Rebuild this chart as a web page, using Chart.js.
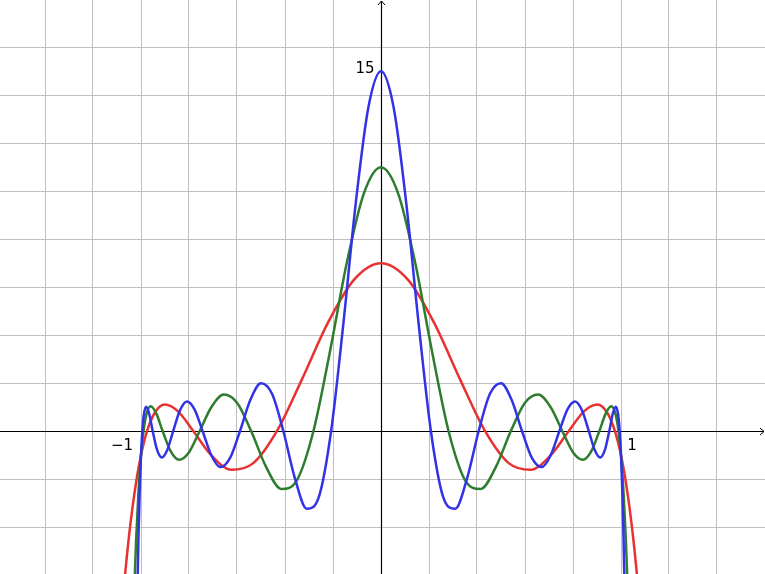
<!DOCTYPE html>
<html>
<head>
<meta charset="utf-8">
<script src="https://cdn.jsdelivr.net/npm/chart.js@4/dist/chart.umd.min.js"></script>
<style>
  html, body { margin: 0; padding: 0; background: #fff; }
  #wrap { width: 765px; height: 574px; }
</style>
</head>
<body>
<div id="wrap"><canvas id="plot" width="765" height="574"></canvas></div>
<script>
// curves (x, y pairs)
const redX = [-1.09, -1.07, -1.05, -1.035, -1.02, -1.01, -1, -0.9937, -0.9749, -0.9439, -0.9010, -0.8467, -0.7818, -0.7071, -0.6235, -0.5320, -0.4339, -0.3303, -0.2225, -0.1120, 0, 0.1120, 0.2225, 0.3303, 0.4339, 0.5320, 0.6235, 0.7071, 0.7818, 0.8467, 0.9010, 0.9439, 0.9749, 0.9937, 1, 1.01, 1.02, 1.035, 1.05, 1.07, 1.09];
const redY = [-8.77, -6.36, -4.37, -3.14, -2.105, -1.515, -1, -0.712, 0, 0.749, 1.110, 0.835, 0, -1, -1.604, -1.329, 0, 2.141, 4.494, 6.316, 7, 6.316, 4.494, 2.141, 0, -1.329, -1.604, -1, 0, 0.835, 1.110, 0.749, 0, -0.712, -1, -1.515, -2.105, -3.14, -4.37, -6.36, -8.77];

const greenX = [-1.03, -1.02, -1.01, -1.005, -1, -0.9975, -0.9898, -0.9771, -0.9595, -0.9370, -0.9096, -0.8777, -0.8413, -0.8005, -0.7558, -0.7071, -0.6549, -0.5993, -0.5406, -0.4793, -0.4154, -0.3495, -0.2817, -0.2126, -0.1423, -0.0713, 0, 0.0713, 0.1423, 0.2126, 0.2817, 0.3495, 0.4154, 0.4793, 0.5406, 0.5993, 0.6549, 0.7071, 0.7558, 0.8005, 0.8413, 0.8777, 0.9096, 0.9370, 0.9595, 0.9771, 0.9898, 0.9975, 1, 1.005, 1.01, 1.02, 1.03];
const greenY = [-7.17, -4.466, -2.447, -1.660, -1, -0.709, 0, 0.724, 1.042, 0.755, 0, -0.806, -1.189, -0.883, 0, 1, 1.527, 1.180, 0, -1.475, -2.407, -2.023, 0, 3.327, 7.027, 9.912, 11, 9.912, 7.027, 3.327, 0, -2.023, -2.407, -1.475, 0, 1.180, 1.527, 1, 0, -0.883, -1.189, -0.806, 0, 0.755, 1.042, 0.724, 0, -0.709, -1, -1.660, -2.447, -4.466, -7.17];

const blueX = [-1.02, -1.015, -1.01, -1.005, -1, -0.9986, -0.9945, -0.9877, -0.9781, -0.9659, -0.9511, -0.9336, -0.9135, -0.8910, -0.8660, -0.8387, -0.8090, -0.7771, -0.7431, -0.7071, -0.6691, -0.6293, -0.5878, -0.5446, -0.5, -0.4540, -0.4067, -0.3584, -0.3090, -0.2588, -0.2079, -0.1564, -0.1045, -0.0523, 0, 0.0523, 0.1045, 0.1564, 0.2079, 0.2588, 0.3090, 0.3584, 0.4067, 0.4540, 0.5, 0.5446, 0.5878, 0.6293, 0.6691, 0.7071, 0.7431, 0.7771, 0.8090, 0.8387, 0.8660, 0.8910, 0.9135, 0.9336, 0.9511, 0.9659, 0.9781, 0.9877, 0.9945, 0.9986, 1, 1.005, 1.01, 1.015, 1.02];
const blueY = [-9.83, -6.63, -4.18, -2.34, -1, -0.708, 0, 0.716, 1.022, 0.732, 0, -0.757, -1.095, -0.794, 0, 0.843, 1.236, 0.910, 0, -1, -1.494, -1.124, 0, 1.298, 2, 1.558, 0, -1.973, -3.236, -2.732, 0, 4.520, 9.567, 13.511, 15, 13.511, 9.567, 4.520, 0, -2.732, -3.236, -1.973, 0, 1.558, 2, 1.298, 0, -1.124, -1.494, -1, 0, 0.910, 1.236, 0.843, 0, -0.794, -1.095, -0.757, 0, 0.732, 1.022, 0.716, 0, -0.708, -1, -2.34, -4.18, -6.63, -9.83];

const xTickValues = [-1, 1];
const yTickValues = [15];

function toPoints(xs, ys) {
  return xs.map((x, i) => ({ x: x, y: ys[i] }));
}

function label(v) {
  return v < 0 ? "\u2212" + Math.abs(v) : String(v);
}

// grid only at whole steps, the zero line is the black axis
function keepGridMultiples(step) {
  return function (scale) {
    scale.ticks = scale.ticks.filter((t) => {
      const r = t.value / step;
      return Math.abs(r - Math.round(r)) < 1e-6 && Math.abs(t.value) > 1e-9;
    });
  };
}

const axesPlugin = {
  id: "axes",
  beforeDatasetsDraw(chart) {
    const ctx = chart.ctx;
    const xs = chart.scales.x;
    const ys = chart.scales.y;
    const area = chart.chartArea;
    const x0 = Math.round(xs.getPixelForValue(0)) + 0.5;
    const y0 = Math.round(ys.getPixelForValue(0)) + 0.5;
    ctx.save();
    ctx.strokeStyle = "#000";
    ctx.lineWidth = 1.2;
    ctx.beginPath();
    ctx.moveTo(area.left, y0);
    ctx.lineTo(area.right - 1, y0);
    ctx.moveTo(x0, area.bottom);
    ctx.lineTo(x0, area.top + 1);
    ctx.stroke();
    // arrow heads
    ctx.lineWidth = 1;
    ctx.beginPath();
    ctx.moveTo(area.right - 5, y0 - 3.5);
    ctx.lineTo(area.right - 1, y0);
    ctx.lineTo(area.right - 5, y0 + 3.5);
    ctx.moveTo(x0 - 3.5, area.top + 5);
    ctx.lineTo(x0, area.top + 1);
    ctx.lineTo(x0 + 3.5, area.top + 5);
    ctx.stroke();

    ctx.fillStyle = "#000";
    ctx.font = "15px 'DejaVu Sans'";
    ctx.textBaseline = "middle";
    xTickValues.forEach((v) => {
      const px = xs.getPixelForValue(v);
      ctx.textAlign = "center";
      if (v < 0) {
        ctx.fillText(label(v), px - 19, y0 + 15);
      } else {
        ctx.fillText(label(v), px + 11, y0 + 15);
      }
    });
    yTickValues.forEach((v) => {
      const py = ys.getPixelForValue(v);
      ctx.textAlign = "right";
      ctx.fillText(label(v), x0 - 7, py - 2);
    });
    ctx.restore();
  },
};

const ctx = document.getElementById("plot").getContext("2d");
new Chart(ctx, {
  type: "scatter",
  data: {
    datasets: [
      { data: toPoints(blueX, blueY), borderColor: "#3232e6" },
      { data: toPoints(greenX, greenY), borderColor: "#2e7d2e" },
      { data: toPoints(redX, redY), borderColor: "#e83232" },
    ],
  },
  options: {
    responsive: false,
    animation: false,
    devicePixelRatio: 1,
    layout: { padding: 0 },
    datasets: {
      scatter: {
        showLine: true,
        pointRadius: 0,
        borderWidth: 2.5,
        cubicInterpolationMode: "monotone",
        fill: false,
      },
    },
    plugins: {
      legend: { display: false },
      tooltip: { enabled: false },
    },
    scales: {
      x: {
        type: "linear",
        min: -1.5875,
        max: 1.6,
        ticks: { display: false, stepSize: 0.2, includeBounds: false },
        grid: { color: "#c0c0c0", lineWidth: 1, drawTicks: false },
        border: { display: false },
        afterBuildTicks: keepGridMultiples(0.2),
      },
      y: {
        type: "linear",
        min: -5.95,
        max: 17.97,
        ticks: { display: false, stepSize: 2, includeBounds: false },
        grid: { color: "#c0c0c0", lineWidth: 1, drawTicks: false },
        border: { display: false },
        afterBuildTicks: keepGridMultiples(2),
      },
    },
  },
  plugins: [axesPlugin],
});
</script>
</body>
</html>
